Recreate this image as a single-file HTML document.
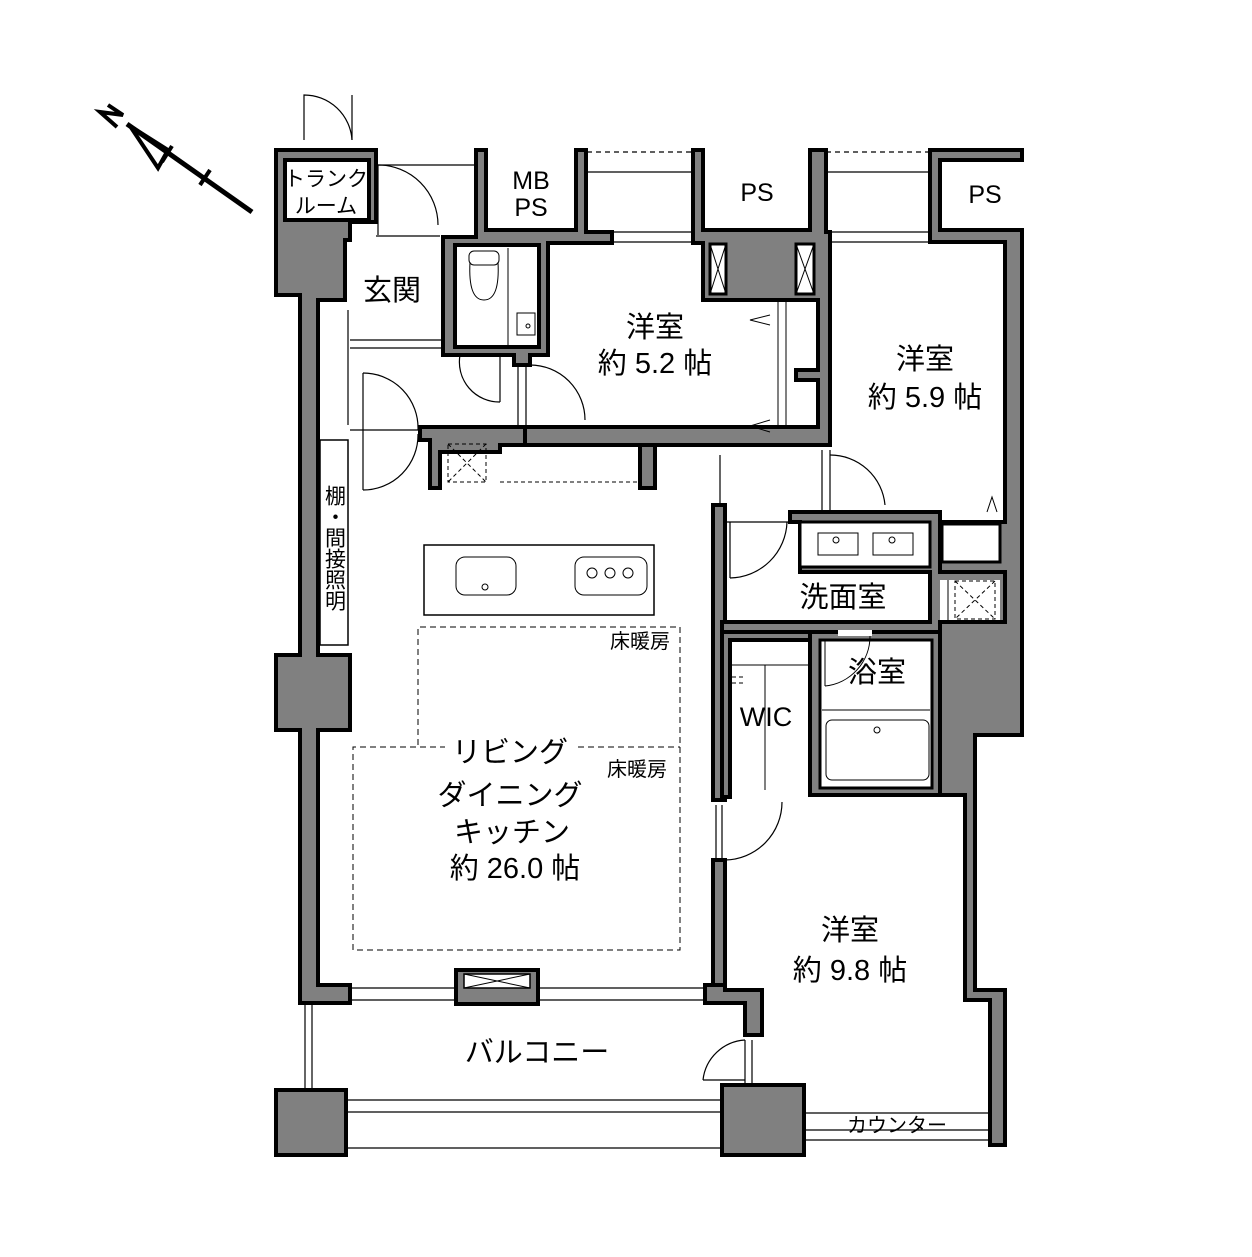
<!DOCTYPE html>
<html><head><meta charset="utf-8"><style>
html,body{margin:0;padding:0;background:#fff;}
svg text{font-family:"Liberation Sans","Noto Sans CJK JP",sans-serif;fill:#000;}
</style></head><body>
<svg width="1252" height="1252" viewBox="0 0 1252 1252" xmlns="http://www.w3.org/2000/svg">
<g fill="none" stroke="#000" stroke-width="1.5">
<line x1="127" y1="124" x2="252" y2="212" stroke-width="5"/>
<polygon points="130,126 158,168 168,150" stroke-width="4"/>
<line x1="162" y1="162" x2="172" y2="146" stroke-width="4"/>
<line x1="200" y1="185" x2="210" y2="170" stroke-width="4"/>
<path d="M108,105 L123,115 L100,112 L117,127" stroke-width="4"/>
</g>

<g stroke="#000" stroke-width="1.2" fill="none">
<line x1="376" y1="165" x2="475" y2="165"/>
<line x1="376" y1="236" x2="440" y2="236"/>
<line x1="587" y1="152" x2="693" y2="152" stroke-dasharray="5,4"/>
<line x1="587" y1="172" x2="693" y2="172"/>
<line x1="826" y1="152" x2="930" y2="152" stroke-dasharray="5,4"/>
<line x1="826" y1="172" x2="930" y2="172"/>
<line x1="612" y1="232" x2="693" y2="232"/><line x1="612" y1="242" x2="693" y2="242"/>
<line x1="830" y1="232" x2="930" y2="232"/><line x1="830" y1="242" x2="930" y2="242"/>
<line x1="350" y1="340" x2="443" y2="340"/><line x1="350" y1="348" x2="443" y2="348"/>
<line x1="348" y1="310" x2="348" y2="425"/>
<line x1="350" y1="430" x2="420" y2="430"/>
<line x1="350" y1="988" x2="705" y2="988"/><line x1="350" y1="1000" x2="705" y2="1000"/>
<line x1="305" y1="1003" x2="305" y2="1090"/><line x1="312" y1="1003" x2="312" y2="1090"/>
<line x1="346" y1="1100" x2="722" y2="1100"/><line x1="346" y1="1112" x2="722" y2="1112"/>
<line x1="346" y1="1148" x2="722" y2="1148"/>
<line x1="805" y1="1113" x2="990" y2="1113"/>
<line x1="805" y1="1130" x2="990" y2="1130"/><line x1="805" y1="1140" x2="990" y2="1140"/>
<line x1="720" y1="455" x2="720" y2="505"/>
<line x1="725" y1="522" x2="790" y2="522"/>
<line x1="940" y1="522" x2="1005" y2="522"/>
<line x1="822" y1="450" x2="822" y2="512"/><line x1="830" y1="450" x2="830" y2="512"/>
<line x1="518" y1="365" x2="518" y2="430"/><line x1="526" y1="365" x2="526" y2="430"/>
<line x1="716" y1="805" x2="716" y2="860"/><line x1="722" y1="805" x2="722" y2="860"/>
<line x1="745" y1="1040" x2="745" y2="1085"/><line x1="752" y1="1040" x2="752" y2="1085"/>
</g>
<g stroke="#000" stroke-width="1.2" fill="none">
<path d="M304,140 L304,95 A48,48 0 0 1 352,140"/><line x1="352" y1="95" x2="352" y2="140"/>
<path d="M378,165 A60,60 0 0 1 438,225"/><line x1="378" y1="165" x2="378" y2="235"/>
<path d="M363,373 A55,55 0 0 1 418,430"/><path d="M363,490 A55,55 0 0 0 418,434"/>
<line x1="363" y1="373" x2="363" y2="490"/>
<path d="M460,355 A40,40 0 0 0 500,402"/><line x1="500" y1="355" x2="500" y2="402"/>
<path d="M530,365 A55,55 0 0 1 585,420"/>
<path d="M830,455 A55,55 0 0 1 885,505"/>
<path d="M730,578 A58,58 0 0 0 787,522"/><line x1="730" y1="522" x2="730" y2="578"/>
<path d="M725,860 A58,58 0 0 0 782,802"/>
<path d="M703,1080 A45,45 0 0 1 745,1040"/><line x1="703" y1="1080" x2="745" y2="1080"/>
</g>

<g fill="#808080" stroke="#000" stroke-width="4" stroke-linejoin="miter">
<polygon points="276,150 376,150 376,222 350,222 350,240 345,240 345,300 318,300 318,655 350,655 350,730 318,730 318,985 350,985 350,1003 300,1003 300,730 276,730 276,655 300,655 300,295 276,295"/>
<polygon points="476,150 486,150 486,230 576,230 576,150 586,150 586,232 612,232 612,243 548,243 548,355 530,355 530,365 514,365 514,355 443,355 443,237 476,237"/>
<polygon points="693,150 703,150 703,230 810,230 810,150 826,150 826,232 830,232 830,445 525,445 525,427 818,427 818,380 796,380 796,370 818,370 818,300 703,300 703,243 693,243"/>
<polygon points="930,150 1022,150 1022,160 940,160 940,230 1022,230 1022,735 975,735 975,990 1005,990 1005,1145 990,1145 990,1000 965,1000 965,795 940,795 940,522 1005,522 1005,242 930,242"/>
<polygon points="420,427 525,427 525,445 500,445 500,452 440,452 440,488 430,488 430,440 420,440"/>
<polygon points="640,445 655,445 655,488 640,488"/>
<rect x="713" y="505" width="12" height="295"/>
<rect x="713" y="860" width="12" height="128"/>
<polygon points="705,985 725,985 725,990 762,990 762,1035 745,1035 745,1003 705,1003"/>
<rect x="276" y="1090" width="70" height="65"/>
<rect x="722" y="1085" width="82" height="70"/>
<rect x="456" y="970" width="82" height="34"/>
<polygon points="790,512 940,512 940,572 1005,572 1005,622 940,622 940,632 722,632 722,622 930,622 930,572 800,572 800,522 790,522"/>
<polygon points="810,632 940,632 940,795 810,795"/>
<polygon points="722,632 810,632 810,640 730,640 730,797 722,797"/>
</g>
<g fill="#fff" stroke="#000" stroke-width="1.5">
<rect x="285" y="160" width="84" height="60" stroke-width="4"/>
<rect x="455" y="245" width="84" height="102" stroke-width="4"/>
<rect x="820" y="640" width="112" height="148" stroke-width="3"/>
<rect x="800" y="522" width="130" height="45" stroke-width="3"/>
<rect x="942" y="524" width="58" height="38" stroke-width="3"/>
<rect x="940" y="580" width="60" height="40" stroke-width="0"/>
<rect x="710" y="244" width="16" height="50" stroke-width="3"/>
<rect x="796" y="244" width="18" height="50" stroke-width="3"/>
<rect x="464" y="974" width="66" height="14"/>
<rect x="320" y="440" width="28" height="205" stroke-width="1.5"/>
<rect x="838" y="630" width="34" height="6" stroke-width="0"/>
</g>
<g stroke="#000" stroke-width="1" fill="none">
<line x1="710" y1="244" x2="726" y2="294"/><line x1="726" y1="244" x2="710" y2="294"/>
<line x1="796" y1="244" x2="814" y2="294"/><line x1="814" y1="244" x2="796" y2="294"/>
<line x1="464" y1="974" x2="530" y2="988"/><line x1="530" y1="974" x2="464" y2="988"/>
<rect x="469" y="251" width="30" height="14" rx="5"/>
<path d="M470,262 Q468,300 484,300 Q500,300 498,262"/>
<line x1="508" y1="248" x2="508" y2="345"/>
<rect x="517" y="313" width="18" height="22"/><circle cx="528" cy="326" r="2"/>
<rect x="818" y="533" width="40" height="22"/><rect x="873" y="533" width="40" height="22"/>
<circle cx="836" cy="540" r="3"/><circle cx="892" cy="540" r="3"/>
<rect x="448" y="444" width="38" height="38" stroke-dasharray="4,3"/>
<line x1="448" y1="444" x2="486" y2="482" stroke-dasharray="4,3"/><line x1="486" y1="444" x2="448" y2="482" stroke-dasharray="4,3"/>
<line x1="500" y1="482" x2="640" y2="482" stroke-dasharray="4,3"/>
<rect x="955" y="581" width="40" height="38" stroke-dasharray="4,3"/>
<line x1="955" y1="581" x2="995" y2="619" stroke-dasharray="4,3"/><line x1="995" y1="581" x2="955" y2="619" stroke-dasharray="4,3"/>
<line x1="948" y1="580" x2="948" y2="622"/>
<rect x="424" y="545" width="230" height="70" stroke-width="1.5"/>
<rect x="456" y="557" width="60" height="38" rx="9"/><circle cx="485" cy="587" r="3"/>
<rect x="575" y="557" width="72" height="38" rx="9"/>
<circle cx="592" cy="573" r="5"/><circle cx="610" cy="573" r="5"/><circle cx="628" cy="573" r="5"/>
<polyline points="418,745 418,627 680,627 680,950 353,950 353,747 445,747" stroke-dasharray="6,4"/>
<line x1="578" y1="747" x2="680" y2="747" stroke-dasharray="6,4"/>
<line x1="732" y1="665" x2="808" y2="665"/>
<line x1="765" y1="665" x2="765" y2="790"/>
<line x1="732" y1="677" x2="745" y2="677" stroke-dasharray="4,3"/>
<line x1="732" y1="683" x2="745" y2="683" stroke-dasharray="4,3"/>
<line x1="822" y1="710" x2="930" y2="710"/>
<rect x="826" y="720" width="103" height="60" rx="6"/>
<circle cx="877" cy="730" r="3"/>
<path d="M825,686 A50,50 0 0 0 870,636"/><line x1="825" y1="640" x2="825" y2="686"/>
<line x1="778" y1="300" x2="778" y2="426"/><line x1="786" y1="300" x2="786" y2="426"/>
<polyline points="770,315 750,320 770,325"/><polyline points="770,420 750,426 770,432"/>
<polyline points="987,512 992,497 997,512"/>
</g>

<g font-size="25" text-anchor="middle">
<text x="531" y="189">MB</text><text x="531" y="216">PS</text>
<text x="757" y="201">PS</text><text x="985" y="203">PS</text>
<text x="766" y="726" font-size="27">WIC</text>
</g>
<g font-size="21" text-anchor="middle">
<text x="326" y="186">トランク</text><text x="326" y="213">ルーム</text>
</g>
<g font-size="29" text-anchor="middle">
<text x="392" y="300">玄関</text>
<text x="655" y="337">洋室</text><text x="655" y="373">約 5.2 帖</text>
<text x="925" y="369">洋室</text><text x="925" y="407">約 5.9 帖</text>
<text x="843" y="607">洗面室</text>
<text x="877" y="682">浴室</text>
<text x="510" y="762">リビング</text>
<text x="510" y="805">ダイニング</text>
<text x="512" y="842">キッチン</text>
<text x="515" y="878">約 26.0 帖</text>
<text x="850" y="940">洋室</text><text x="850" y="980">約 9.8 帖</text>
<text x="537" y="1062">バルコニー</text>
</g>
<g font-size="20" text-anchor="middle">
<text x="640" y="648">床暖房</text><text x="637" y="776">床暖房</text>
<text x="897" y="1132">カウンター</text>
</g>
<text x="334" y="485" font-size="21" style="writing-mode:vertical-rl" text-anchor="start">棚・間接照明</text>
</svg>
</body></html>
